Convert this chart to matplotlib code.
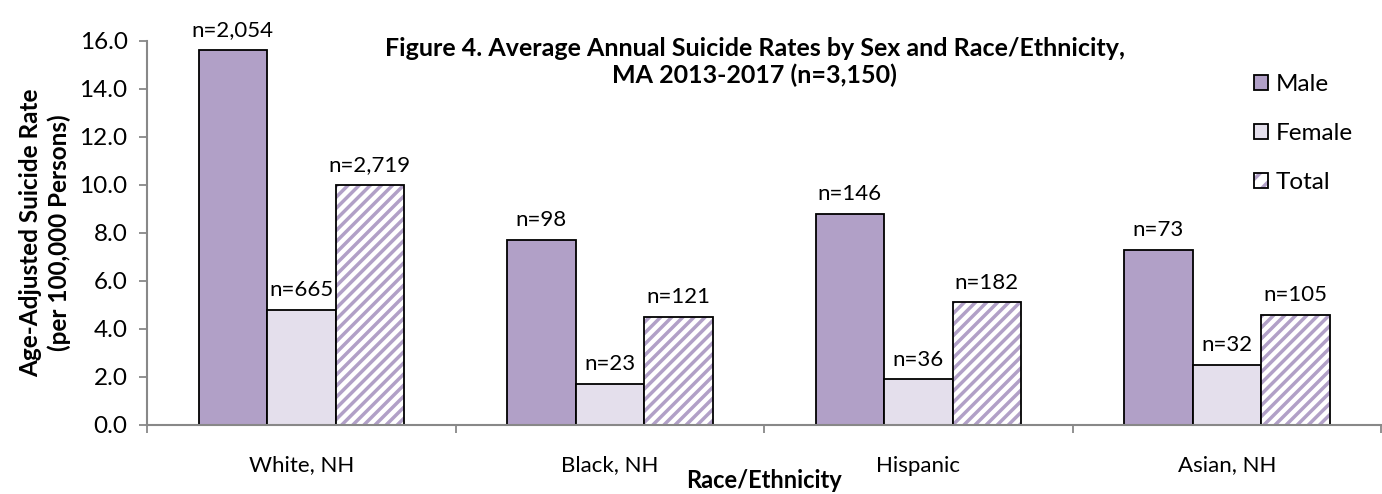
import matplotlib
matplotlib.use("Agg")
import matplotlib.pyplot as plt
from matplotlib.patches import Patch
from matplotlib.legend_handler import HandlerTuple
import numpy as np

categories = ["White, NH", "Black, NH", "Hispanic", "Asian, NH"]
series_names = ["Male", "Female", "Total"]
male = [15.6, 7.7, 8.8, 7.3]
female = [4.8, 1.7, 1.9, 2.5]
total = [10.0, 4.5, 5.1, 4.6]
male_n = ["n=2,054", "n=98", "n=146", "n=73"]
female_n = ["n=665", "n=23", "n=36", "n=32"]
total_n = ["n=2,719", "n=121", "n=182", "n=105"]
yticks = [0, 2, 4, 6, 8, 10, 12, 14, 16]

plt.rcParams['font.family'] = ['Lato', 'DejaVu Sans']
plt.rcParams['hatch.linewidth'] = 2.5

fig = plt.figure(figsize=(13.82, 4.94), dpi=100)
ax = fig.add_axes([0.1064, 0.1397, 0.8929, 0.7779])

x = np.arange(len(categories))
w = 0.222
c_male = "#B1A0C7"
c_fem = "#E4DFEC"

ax.bar(x - w, male, w, color=c_male, edgecolor="black", linewidth=1.3)
ax.bar(x, female, w, color=c_fem, edgecolor="black", linewidth=1.3)
ax.bar(x + w, total, w, color="white", edgecolor=c_male, hatch="///", linewidth=0)
ax.bar(x + w, total, w, facecolor="none", edgecolor="black", linewidth=1.3)

fs = 16
for xs, vals, labs in [(x - w, male, male_n), (x, female, female_n), (x + w, total, total_n)]:
    for xi, v, lab in zip(xs, vals, labs):
        ax.annotate(lab, (xi, v), xytext=(0, 7), textcoords="offset points",
                    ha="center", va="bottom", fontsize=fs)

ax.set_xlim(-0.5, len(categories) - 0.5)
ax.set_ylim(0, 16)
ax.set_yticks(yticks)
ax.set_yticklabels([f"{t:.1f}" for t in yticks], fontsize=17.5)
ax.set_xticks(np.arange(len(categories) + 1) - 0.5, minor=False)
ax.set_xticklabels([])
ax.set_xticks(x, minor=True)
ax.set_xticklabels(categories, minor=True, fontsize=16)
ax.tick_params(axis="x", which="minor", length=0, pad=22)
ax.tick_params(axis="x", which="major", length=6, color="#888888", width=1.3, direction="out")
ax.tick_params(axis="y", length=6, color="#888888", width=1.3, direction="out", pad=8)

for s in ["top", "right"]:
    ax.spines[s].set_visible(False)
for s in ["left", "bottom"]:
    ax.spines[s].set_color("#888888")
    ax.spines[s].set_linewidth(1.5)

ax.set_ylabel("Age-Adjusted Suicide Rate\n(per 100,000 Persons)", fontsize=17.5, fontweight="bold",
              linespacing=1.3, labelpad=6)
ax.set_xlabel("Race/Ethnicity", fontsize=17, fontweight="bold", labelpad=-5)

fig.text(0.546, 0.875, "Figure 4. Average Annual Suicide Rates by Sex and Race/Ethnicity,\nMA 2013-2017 (n=3,150)",
         ha="center", va="center", fontsize=18, fontweight="bold", linespacing=1.2)

handles = [Patch(facecolor=c_male, edgecolor="black", linewidth=1.3),
           Patch(facecolor=c_fem, edgecolor="black", linewidth=1.3),
           (Patch(facecolor="white", edgecolor=c_male, hatch="//", linewidth=0),
            Patch(facecolor="none", edgecolor="black", linewidth=1.3))]
leg = fig.legend(handles, series_names, loc="upper left", bbox_to_anchor=(0.9, 0.87),
                 frameon=False, fontsize=17.5, handlelength=0.6, handleheight=0.6,
                 handletextpad=0.3, labelspacing=1.15, borderaxespad=0,
                 handler_map={tuple: HandlerTuple(ndivide=1)})

fig.savefig("out.png", dpi=100)
